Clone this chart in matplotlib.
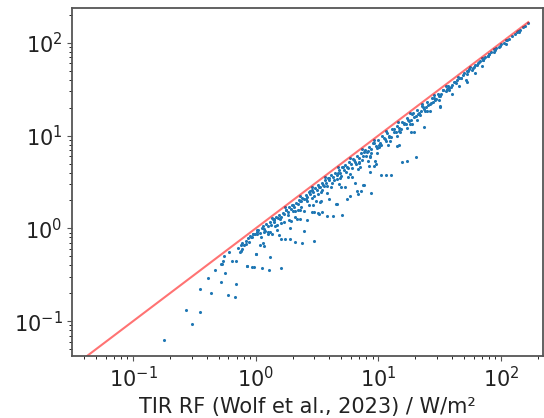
import numpy as np
import matplotlib.pyplot as plt

# 1. data (W/m^2)
# points hugging the 1:1 line
x_band = [0.72, 0.78, 0.80, 0.84, 0.86, 0.88, 0.90, 0.93, 0.95, 0.98, 1.02, 1.05, 1.08, 1.12, 1.15,
          1.18, 1.22, 1.25, 1.30, 1.33, 1.38, 1.42, 1.47, 1.52, 1.56, 1.60, 1.66, 1.70, 1.76, 1.82,
          1.88, 1.94, 2.0, 2.06, 2.12, 2.2, 2.26, 2.34, 2.4, 2.48, 2.55, 2.62, 2.7, 2.8, 2.88, 2.96,
          3.05, 3.15, 3.25, 3.35, 3.45, 3.55, 3.65, 3.78, 3.9, 4.0, 4.15, 4.3, 4.45, 4.6, 4.75, 4.9,
          5.05, 5.25, 5.4, 5.6, 5.8, 6.0, 6.2, 6.45, 6.7, 6.95, 7.2, 7.5, 7.8, 8.1, 8.4, 8.75, 9.1,
          9.5, 9.9, 10.3, 10.8, 11.3, 11.8, 12.3, 12.9, 13.5, 14.1, 14.8, 15.5, 16.2, 17.0, 17.8,
          18.7, 19.6, 20.6, 21.6, 22.7, 23.8, 25.0, 26.3, 27.6, 29.0, 30.5, 32.0, 33.7, 35.4, 37.2,
          39.1, 41.1, 43.2, 45.4, 47.7, 50.2, 52.7, 55.4, 58.3, 61.3, 64.4, 67.7, 71.2, 74.8, 78.7,
          82.7, 87.0, 91.4, 96.1, 101, 106, 112, 117, 123, 130, 136, 143, 151, 158, 167,
          1.35, 1.75, 2.3, 2.9, 3.7, 4.7, 5.9, 7.4, 9.3, 11.6, 14.5, 18.2, 22.8, 28.5, 35.7, 44.7,
          56.0, 70.0, 88.0, 110, 138]
y_band = [0.62, 0.70, 0.66, 0.74, 0.78, 0.72, 0.83, 0.80, 0.88, 0.86, 0.92, 0.97, 0.90, 1.02, 1.06,
          0.98, 1.12, 1.05, 1.18, 1.10, 1.25, 1.18, 1.32, 1.28, 1.40, 1.34, 1.48, 1.42, 1.58, 1.52,
          1.70, 1.62, 1.80, 1.72, 1.90, 1.85, 2.02, 1.95, 2.15, 2.05, 2.30, 2.18, 2.45, 2.32, 2.60, 2.45,
          2.75, 2.62, 2.95, 2.78, 3.10, 2.90, 3.30, 3.10, 3.50, 3.30, 3.75, 3.55, 4.00, 3.75, 4.25, 4.00,
          4.55, 4.30, 4.85, 4.55, 5.20, 4.90, 5.60, 5.25, 6.05, 5.70, 6.50, 6.10, 7.05, 6.60, 7.60, 7.15, 8.25,
          7.80, 9.00, 8.40, 9.80, 9.20, 10.7, 10.0, 11.7, 11.0, 12.8, 12.0, 14.0, 13.2, 15.4, 14.5,
          17.0, 16.0, 18.7, 17.6, 20.6, 19.5, 22.8, 21.8, 25.2, 24.3, 27.9, 27.0, 30.9, 30.0, 34.3,
          33.5, 38.0, 37.2, 42.2, 41.5, 46.9, 46.0, 52.0, 51.5, 57.8, 57.5, 64.0, 64.5, 71.0, 72.0,
          79.0, 80.5, 87.5, 89.5, 97, 100, 108, 111, 119, 124, 132, 138, 147, 152, 163,
          1.30, 1.68, 2.22, 2.80, 3.58, 4.55, 5.72, 7.15, 9.0, 11.2, 14.0, 17.6, 22.0, 27.6, 34.6, 43.3,
          54.3, 68.0, 85.5, 107, 134]

# thicker part of the cloud below the line
x_lower = [1.1, 1.25, 1.45, 1.62, 1.85, 2.1, 2.35, 2.6, 2.9, 3.2, 3.5, 3.85, 4.2, 4.6, 5.0, 5.5,
           6.1, 6.6, 7.3, 8.0, 8.8, 9.7, 10.6, 11.6, 12.7, 14.0, 15.3, 16.8, 18.4, 20.2, 22.2, 24.4,
           26.8, 29.5, 32.5, 36.0, 40.0, 44.0, 49.0, 54.0, 60.0, 66.0, 73.0, 80.0, 90.0,
           1.15, 1.5, 1.95, 2.5, 3.1, 3.8, 4.8, 5.7, 6.8, 8.2, 9.8, 11.9, 14.2, 17.1, 20.5, 25.0, 31, 38,
           1.03, 1.2, 1.4, 1.58, 1.78, 2.02, 2.28, 2.55, 2.78, 3.0, 3.3, 3.6, 3.95, 4.35, 4.7, 5.15,
           5.65, 6.3, 6.9, 7.6, 8.3, 9.2, 10.1, 11.1, 12.2, 13.4, 14.7, 16.1, 17.6, 19.3, 21.2, 23.3,
           25.6, 28.2, 31.0, 34.0, 37.5, 42, 47, 53, 59, 65, 72, 80, 89, 98,
           1.3, 1.7, 2.2, 2.7, 3.4, 4.1, 4.9, 5.9, 7.0, 8.5, 10.2, 12.5, 15, 18, 22]
y_lower = [0.80, 0.92, 1.05, 1.15, 1.38, 1.55, 1.70, 1.95, 2.10, 2.35, 2.60, 2.85, 3.05, 3.40, 3.70, 4.05,
           4.45, 4.95, 5.40, 6.00, 6.50, 7.30, 8.00, 8.80, 9.70, 10.8, 11.9, 13.3, 14.6, 16.3, 18.2, 20.3,
           22.4, 25.0, 28.0, 31.5, 35.5, 39.5, 44.5, 49.5, 55.0, 61.5, 68.5, 76.0, 85.0,
           0.70, 0.95, 1.20, 1.55, 1.95, 2.40, 3.00, 3.60, 4.40, 5.30, 6.50, 8.00, 9.80, 12.0, 14.8, 18.5, 24, 31,
           0.876, 0.936, 1.26, 1.26, 1.57, 1.54, 1.96, 2.09, 2.50, 2.22, 2.81, 2.88, 3.48, 3.35, 3.95, 4.64,
           4.46, 5.42, 5.18, 6.61, 6.81, 8.28, 7.88, 9.44, 9.76, 11.8, 11.2, 13.8, 14.6, 17.4, 17.0, 20.3,
           21.5, 25.4, 26.4, 31.3, 32.3, 38.2, 41.4, 49.3, 53.1, 61.1, 65.5, 76.0, 82.8, 93.1,
           0.91, 1.16, 1.58, 1.78, 2.48, 2.79, 3.53, 3.89, 5.04, 5.87, 7.55, 8.75, 10.95, 13.5, 16.7]

# scattered points further from the line
x_out = [0.18, 0.27, 0.30, 0.352, 0.35, 0.41, 0.436, 0.52, 0.526, 0.56, 0.55, 0.59, 0.675, 0.69, 0.646,
         0.607, 0.755, 0.857, 0.97, 1.0, 0.467, 0.53, 0.545, 0.69, 0.755, 0.745, 0.78, 0.83, 0.91, 0.96,
         1.03, 1.0, 1.08, 1.18, 0.845, 0.94, 1.13, 1.28, 1.26, 1.55, 1.32, 1.6, 1.9, 1.75, 1.6, 1.9,
         2.11, 2.4, 2.47, 2.98, 2.11, 2.3, 2.98, 2.94, 3.27, 3.48, 3.83, 4.28, 4.6, 5.06, 3.44, 1.17,
         1.37, 1.5, 1.41, 2.63, 2.89, 3.21, 4.55, 3.37, 3.94, 5.56, 5.9, 6.7, 6.87, 2.18, 1.87, 1.99, 2.32,
         15.6, 17.3, 20.4, 10.6, 11.6, 12.7, 7.6, 9.16, 9.43, 8.6, 14.3, 18.5, 19.6, 23.4, 26.5, 28.1,
         6.1, 8.6, 7.1, 5.4, 5.0, 6.5, 31.9, 39.7, 24, 52.6, 61.5, 78.9, 111, 140, 8.65, 7.2, 7.5, 8.4,
         9.5, 14.7, 18.9, 45.4, 70.0, 51.5, 32]
y_out = [0.063, 0.132, 0.094, 0.126, 0.22, 0.295, 0.20, 0.265, 0.41, 0.334, 0.50, 0.19, 0.18, 0.25, 0.446,
         0.55, 0.57, 0.39, 0.38, 0.525, 0.36, 0.41, 0.45, 0.446, 0.656, 0.556, 0.60, 0.685, 0.81, 0.877,
         0.95, 0.53, 0.67, 0.64, 0.39, 0.38, 0.375, 0.36, 0.877, 0.84, 0.49, 0.37, 1.02, 0.76, 0.76, 0.775,
         0.71, 0.695, 0.93, 0.73, 1.32, 1.27, 1.5, 1.77, 1.44, 1.5, 1.36, 1.35, 1.81, 1.38, 1.95, 0.91,
         0.877, 1.08, 1.22, 1.22, 1.5, 1.47, 1.84, 1.92, 2.08, 2.08, 2.26, 2.52, 2.36, 1.27, 1.22, 1.77, 1.56,
         5.16, 5.3, 5.9, 3.8, 3.78, 3.78, 2.97, 4.76, 5.38, 6.1, 7.8, 10.8, 10.8, 12.3, 18.6, 22.8,
         3.57, 4.03, 4.64, 2.78, 2.78, 3.1, 20.2, 28, 18.6, 37.4, 46.8, 72.5, 97, 132, 2.4, 2.52, 2.95, 4.76,
         4.96, 8.0, 13.4, 34.4, 56.7, 39.3, 20.6]

x = np.array(x_band + x_lower + x_out)
y = np.array(y_band + y_lower + y_out)

# 2. plot
fig = plt.figure(figsize=(5.44, 4.18), dpi=100)
ax = fig.add_axes([0.133, 0.148, 0.865, 0.834])
ax.scatter(x, y, s=1.5, color="tab:blue")
line = [0.03, 167]
ax.plot(line, line, color="red", alpha=0.55, linewidth=1.5)

ax.set_xscale("log")
ax.set_yscale("log")
ax.set_xlim(0.032, 220)
ax.set_ylim(0.042, 240)
ax.set_xlabel("TIR RF (Wolf et al., 2023) / W/m²", fontsize=15, color="#222222")
ax.tick_params(labelsize=15, labelcolor="#222222", color="#555555")
for s in ax.spines.values():
    s.set_color("#555555")
    s.set_linewidth(1.3)

fig.savefig("out.png", dpi=100)
